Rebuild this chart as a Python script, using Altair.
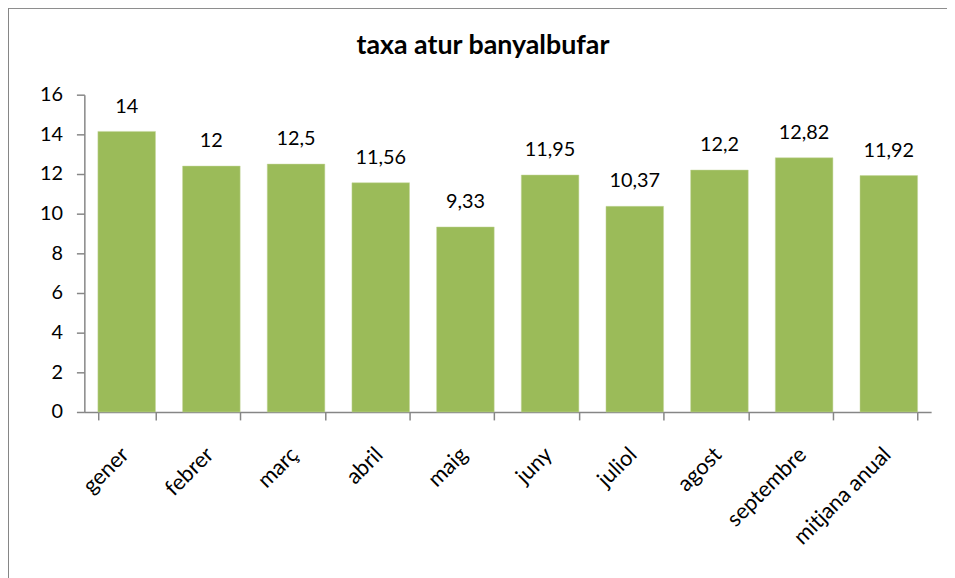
import altair as alt
import pandas as pd

mesos = ["gener", "febrer", "març", "abril", "maig", "juny", "juliol", "agost", "septembre", "mitjana anual"]
valors = [14.15, 12.4, 12.5, 11.56, 9.33, 11.95, 10.37, 12.2, 12.82, 11.92]
etiquetes = ["14", "12", "12,5", "11,56", "9,33", "11,95", "10,37", "12,2", "12,82", "11,92"]
y_ticks = [0, 2, 4, 6, 8, 10, 12, 14, 16]
titol = "taxa atur banyalbufar"

df = pd.DataFrame({"mes": mesos, "valor": valors, "etiqueta": etiquetes})
df_title = pd.DataFrame({"t": [titol]})

FONT = "Lato"
GRAY = "#868686"

x_enc = alt.X("mes:N", sort=mesos, title=None,
              scale=alt.Scale(paddingInner=0.32, paddingOuter=0.16),
              axis=alt.Axis(labelAngle=-45, labelAlign="right", labelBaseline="middle",
                            labelFont=FONT, labelFontSize=22, labelColor="#000000",
                            labelPadding=31, labelOffset=-2, tickSize=8, tickColor=GRAY,
                            domainColor=GRAY, domainWidth=1.5, tickWidth=1.5,
                            tickBand="extent", labelOverlap=False))
y_enc = alt.Y("valor:Q", title=None,
              scale=alt.Scale(domain=[0, 16], nice=False),
              axis=alt.Axis(values=y_ticks, labelFont=FONT, labelFontSize=20,
                            labelColor="#000000", labelPadding=14, tickSize=8,
                            tickColor=GRAY, domainColor=GRAY, domainWidth=1.5,
                            tickWidth=1.5, grid=False, labelOverlap=False))

bars = alt.Chart(df).mark_bar(color="#9BBB59", stroke="#C3D69B", strokeWidth=0.5).encode(
    x=x_enc, y=y_enc)

text = alt.Chart(df).mark_text(font=FONT, fontSize=20, color="#000000",
                               baseline="alphabetic", dy=-19).encode(
    x=x_enc, y=y_enc, text="etiqueta:N")

title = alt.Chart(df_title).mark_text(font=FONT, fontSize=27, fontWeight="bold",
                                      color="#000000", align="center",
                                      baseline="alphabetic").encode(
    x=alt.value(402), y=alt.value(-41), text="t:N")

border_top = alt.Chart(df).mark_rule(color=GRAY, strokeWidth=1.5).encode(
    x=alt.value(-77), x2=alt.value(900), y=alt.value(-88))
border_left = alt.Chart(df).mark_rule(color=GRAY, strokeWidth=1.5).encode(
    x=alt.value(-77), y=alt.value(-88), y2=alt.value(500))

chart = alt.layer(border_top, border_left, bars, text, title).properties(
    width=854, height=320, background="white",
    autosize=alt.AutoSizeParams(type="none"),
    padding={"left": 77, "top": 85, "right": 16, "bottom": 165},
).configure_view(stroke=None)

chart.save("out.html", embed_options={"renderer": "svg", "actions": False})
